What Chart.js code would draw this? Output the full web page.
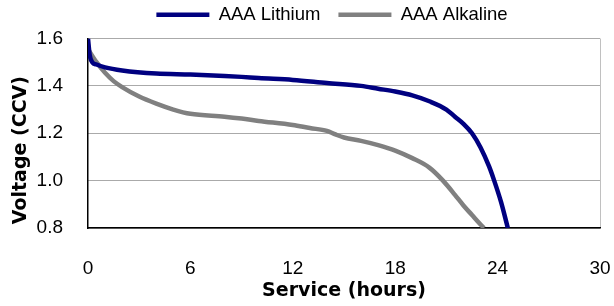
<!DOCTYPE html>
<html>
<head>
<meta charset="utf-8">
<script src="https://cdn.jsdelivr.net/npm/chart.js@4/dist/chart.umd.min.js"></script>
<style>
  html, body { margin: 0; padding: 0; background: #fff; }
  #chart { display: block; }
</style>
</head>
<body>
<canvas id="chart" width="614" height="306"></canvas>
<script>
// hours of service vs closed-circuit voltage
const lithiumHours = [0, 0.1, 0.25, 0.5, 1, 2, 4, 6, 8, 9, 10, 12, 14, 16, 17, 18, 19, 20, 21, 21.5, 22, 22.5, 23, 23.5, 23.8, 24.2, 24.6];
const lithiumVolts = [1.60, 1.53, 1.50, 1.49, 1.478, 1.465, 1.452, 1.448, 1.442, 1.438, 1.433, 1.425, 1.412, 1.40, 1.388, 1.376, 1.36, 1.335, 1.30, 1.27, 1.24, 1.20, 1.14, 1.06, 1.00, 0.91, 0.80];

const alkalineHours = [0, 0.5, 1, 1.5, 2, 3, 4, 5, 6, 8, 9, 10, 12, 13, 14, 14.5, 15, 16, 17, 18, 19, 20, 20.8, 21.5, 22, 22.5, 23, 23.2];
const alkalineVolts = [1.555, 1.50, 1.455, 1.42, 1.395, 1.355, 1.325, 1.30, 1.282, 1.27, 1.262, 1.252, 1.235, 1.222, 1.21, 1.195, 1.182, 1.168, 1.15, 1.127, 1.095, 1.055, 1.00, 0.94, 0.895, 0.855, 0.815, 0.80];

const seriesNames = ["AAA Lithium", "AAA Alkaline"];
const xTicks = [0, 6, 12, 18, 24, 30];
const yTicks = [0.8, 1.0, 1.2, 1.4, 1.6];

const toPoints = (xs, ys) => xs.map((x, i) => ({ x: x, y: ys[i] }));

// nudge the legend a bit right/up, like the original
const legendShift = {
  id: "legendShift",
  afterLayout(chart) {
    const lg = chart.legend;
    lg.left += 32; lg.right += 32;
    lg.top -= 4.5; lg.bottom -= 4.5;
  }
};

const ctx = document.getElementById("chart").getContext("2d");

new Chart(ctx, {
  type: "line",
  data: {
    datasets: [
      {
        label: seriesNames[0],
        data: toPoints(lithiumHours, lithiumVolts),
        borderColor: "#000080",
        backgroundColor: "#000080",
        borderWidth: 4.5,
        pointRadius: 0,
        cubicInterpolationMode: "monotone"
      },
      {
        label: seriesNames[1],
        data: toPoints(alkalineHours, alkalineVolts),
        borderColor: "#808080",
        backgroundColor: "#808080",
        borderWidth: 4.5,
        pointRadius: 0,
        cubicInterpolationMode: "monotone"
      }
    ]
  },
  plugins: [legendShift],
  options: {
    responsive: false,
    devicePixelRatio: 1,
    animation: false,
    layout: { padding: { left: 0, right: 14, top: -8, bottom: 0 } },
    plugins: {
      tooltip: { enabled: false },
      legend: {
        position: "top",
        labels: {
          usePointStyle: true,
          pointStyle: "line",
          pointStyleWidth: 53,
          padding: 18,
          color: "#000",
          font: { family: "'Liberation Sans', Arial, sans-serif", size: 18.5 }
        }
      }
    },
    scales: {
      x: {
        type: "linear",
        min: 0,
        max: 30,
        afterFit: (s) => { s.height = 78; s.paddingRight = 0; s.paddingLeft = 0; },
        afterBuildTicks: (s) => { s.ticks = xTicks.map(v => ({ value: v })); },
        ticks: {
          color: "#000",
          padding: 29,
          font: { family: "'Liberation Sans', Arial, sans-serif", size: 19 }
        },
        grid: {
          drawTicks: false,
          color: (c) => c.tick && c.tick.value === 30 ? "#c0c0c0" : "rgba(0,0,0,0)",
          lineWidth: 1
        },
        border: { display: true, color: "#000", width: 1.5 },
        title: {
          display: true,
          text: "Service (hours)",
          color: "#000",
          padding: { top: 0, bottom: 4 },
          font: { family: "'DejaVu Sans', sans-serif", size: 19, weight: "bold" }
        }
      },
      y: {
        min: 0.8,
        max: 1.6,
        afterFit: (s) => { s.width = 88; },
        afterBuildTicks: (s) => { s.ticks = yTicks.map(v => ({ value: v })); },
        ticks: {
          color: "#000",
          padding: 25,
          callback: (v) => v.toFixed(1),
          font: { family: "'Liberation Sans', Arial, sans-serif", size: 19 }
        },
        grid: {
          drawTicks: false,
          color: "#555",
          lineWidth: 1
        },
        border: { display: true, color: "#000", width: 1.5, dash: [1, 1] },
        title: {
          display: true,
          align: "start",
          text: "\u2009Voltage (CCV)",
          color: "#000",
          padding: { top: 10, bottom: 0 },
          font: { family: "'DejaVu Sans', sans-serif", size: 19, weight: "bold" }
        }
      }
    }
  }
});
</script>
</body>
</html>
